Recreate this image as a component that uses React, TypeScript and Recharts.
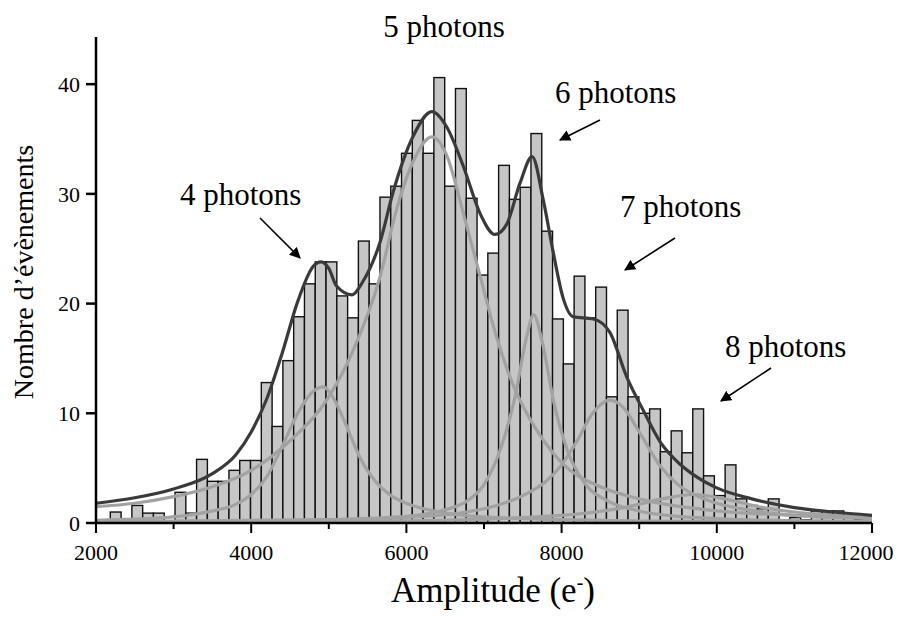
import React from 'react';
import { ComposedChart, Bar, Line, XAxis, YAxis } from 'recharts';

const FONT = '"Liberation Serif", "Times New Roman", serif';

// histogram bin centres (e-) and counts
const amplitude = [
  2254, 2393, 2532, 2671, 2810, 2949, 3088, 3227, 3366, 3505,
  3644, 3783, 3922, 4061, 4200, 4339, 4478, 4617, 4756, 4895,
  5034, 5173, 5312, 5451, 5590, 5729, 5868, 6007, 6146, 6285,
  6424, 6563, 6702, 6841, 6980, 7119, 7258, 7397, 7536, 7675,
  7814, 7953, 8092, 8231, 8370, 8509, 8648, 8787, 8926, 9065,
  9204, 9343, 9482, 9621, 9760, 9899, 10038, 10177, 10316, 10455,
  10594, 10733, 10872, 11011, 11150, 11289, 11428, 11567, 11706, 11845,
  11984,
];
const counts = [
  1, 0, 1.6, 0.9, 0.9, 0, 2.8, 0.9, 5.8, 3.8,
  3.8, 4.8, 5.7, 5.7, 12.8, 8.8, 14.8, 18.8, 21.8, 23.8,
  23.8, 20.7, 18.7, 25.7, 21.8, 29.7, 30.7, 33.7, 36.7, 33.7,
  40.6, 30.7, 39.6, 29.6, 22.6, 24.6, 32.6, 29.5, 30.6, 35.5,
  26.6, 18.6, 14.5, 22.5, 18.7, 21.5, 11.5, 19.4, 11.5, 10,
  10.4, 6.5, 8.4, 6.4, 10.4, 4.3, 2.5, 5.3, 2.2, 1.6,
  1.3, 2.2, 0.3, 0.5, 0.3, 1.1, 1.1, 1.1, 0.6, 0.3,
  0.5,
];

// fitted curves as [amplitude, value]
const fitTotal = [
  [2000, 1.8], [2500, 2.3], [3000, 3.1], [3500, 4.5], [3800, 6.2], [4000, 8.3],
  [4200, 11.3], [4400, 15.5], [4600, 20.2], [4800, 23.4], [4900, 23.8], [5000, 23.2],
  [5100, 21.6], [5300, 20.8], [5430, 21.9], [5660, 25.6], [5830, 30.2], [6090, 35.3],
  [6330, 37.5], [6520, 36.1], [6735, 32.5], [6950, 28.2], [7140, 26.3], [7290, 27.2],
  [7465, 31], [7620, 33.4], [7765, 29.4], [7894, 24.6], [8020, 20.5], [8150, 18.8],
  [8410, 18.6], [8620, 17.4], [8840, 13.3], [9050, 10.3], [9270, 7.4], [9520, 5.4],
  [9740, 4.2], [10000, 3.2], [10450, 2.2], [11000, 1.4], [11500, 1.0], [12000, 0.7],
];
const fit4 = [
  [2000, 0.25], [2500, 0.35], [3000, 0.55], [3500, 1.1], [3800, 1.7], [4000, 2.6],
  [4200, 4.2], [4400, 7], [4600, 10], [4800, 12], [4930, 12.4], [5050, 11.5],
  [5200, 9.3], [5400, 6], [5600, 3.8], [5800, 2.5], [6000, 1.8], [6500, 0.9],
  [7000, 0.55], [8000, 0.3], [9000, 0.18], [10000, 0.13], [11000, 0.1], [12000, 0.08],
];
const fit5 = [
  [2000, 1.5], [2500, 1.8], [3000, 2.4], [3500, 3.3], [4000, 4.8], [4500, 7.5],
  [5000, 11.5], [5300, 15.5], [5663, 22.5], [5870, 28.5], [6090, 33], [6330, 35.2],
  [6520, 33.5], [6735, 28.2], [6950, 22.5], [7160, 17], [7380, 12.5], [7590, 9.5],
  [7800, 7.2], [8000, 5.5], [8500, 3.3], [9000, 2.2], [10000, 1.1], [11000, 0.7], [12000, 0.5],
];
const fit6 = [
  [2000, 0.1], [4000, 0.2], [5000, 0.3], [6000, 0.6], [6500, 1.2], [6800, 2.1],
  [7000, 3.5], [7200, 6.5], [7400, 11.5], [7550, 17], [7640, 19], [7750, 16.5],
  [7900, 11], [8070, 6.7], [8300, 3.6], [8600, 2], [9000, 1.1], [9500, 0.6],
  [10000, 0.4], [11000, 0.2], [12000, 0.15],
];
const fit7 = [
  [2000, 0.1], [5000, 0.3], [6000, 0.5], [7000, 1.3], [7500, 2.5], [7800, 3.8],
  [8000, 5.3], [8200, 7.5], [8400, 10], [8620, 11.2], [8800, 10.5], [9000, 8.3],
  [9270, 5.2], [9500, 3.5], [9800, 2.3], [10000, 1.8], [10500, 1.1], [11000, 0.7],
  [11500, 0.5], [12000, 0.4],
];
const fit8 = [
  [2000, 0.05], [6000, 0.2], [8000, 0.7], [8800, 1.4], [9300, 2.2], [9700, 2.6],
  [10100, 2.2], [10600, 1.4], [11000, 1.0], [11500, 0.7], [12000, 0.5],
];

const xTicks = [2000, 3000, 4000, 5000, 6000, 7000, 8000, 9000, 10000, 11000, 12000];
const yTicks = [0, 10, 20, 30, 40];

const histData = amplitude.map((x, i) => ({ x, count: counts[i] }));
const toPoints = (pairs: number[][]) => pairs.map(([x, y]) => ({ x, y }));

const BIN_PX = 10.8;

function AmplitudeTick(props: any) {
  const { x, y, payload } = props;
  const v = payload.value;
  const major = v % 2000 === 0;
  // last label pulled in a little so it stays inside the page
  const shift = v === 12000 ? -6 : 0;
  return (
    <g>
      <line x1={x} x2={x} y1={y} y2={y + (major ? 10 : 6)} stroke="#000" strokeWidth={2} />
      {major && (
        <text x={x + shift} y={y + 37} textAnchor="middle" fontFamily={FONT} fontSize={22} fill="#000">
          {v}
        </text>
      )}
    </g>
  );
}

// histogram bar: keeps the library's x / height, draws it one bin wide
function BinBar(props: any) {
  const { x, y, width, height } = props;
  if (!height || height <= 0) return <g />;
  const cx = x + (width || 0) / 2;
  return (
    <rect x={cx - BIN_PX / 2} y={y} width={BIN_PX} height={height}
      fill="#c6c6c6" stroke="#111" strokeWidth={1.4} />
  );
}

const componentFits = [fit4, fit5, fit6, fit7, fit8];

export default function App() {
  const W = 889;
  const H = 602;
  return (
    <div style={{ position: 'relative', width: W, height: H }}>
      <ComposedChart width={W} height={H} data={histData}
        margin={{ top: 29, right: 25, left: 28, bottom: 0 }}>
        <XAxis type="number" dataKey="x" domain={[2000, 12000]} ticks={xTicks} interval={0}
          allowDataOverflow tick={<AmplitudeTick />} tickLine={false} tickSize={0} tickMargin={0}
          height={87} axisLine={{ stroke: '#000', strokeWidth: 2.5 }} />
        <YAxis type="number" domain={[0, 44.3]} ticks={yTicks} interval={0} allowDataOverflow
          width={60} tickSize={10} tickMargin={6}
          tickLine={{ stroke: '#000', strokeWidth: 2.5 }}
          axisLine={{ stroke: '#000', strokeWidth: 2.5 }}
          tick={{ fill: '#000', fontSize: 22, fontFamily: FONT }} />
        <Bar dataKey="count" barSize={BIN_PX} shape={<BinBar />} isAnimationActive={false} />
        {componentFits.map((pts, i) => (
          <Line key={'c' + i} data={toPoints(pts)} dataKey="y" type="monotone" stroke="#a2a2a2"
            strokeWidth={3.2} dot={false} activeDot={false} isAnimationActive={false} />
        ))}
        <Line data={toPoints(fitTotal)} dataKey="y" type="monotone" stroke="#3a3a3a"
          strokeWidth={3.2} dot={false} activeDot={false} isAnimationActive={false} />
      </ComposedChart>
      <svg width={W} height={H} style={{ position: 'absolute', left: 0, top: 0, pointerEvents: 'none' }}>
        <defs>
          <marker id="arrowhead" viewBox="0 0 10 10" refX="9" refY="5" markerWidth="7" markerHeight="7"
            orient="auto-start-reverse">
            <path d="M0,0 L10,5 L0,10 z" fill="#000" />
          </marker>
        </defs>
        <g fontFamily={FONT} fontSize={31} fill="#000">
          <text x={436} y={29} textAnchor="middle">5 photons</text>
          <text x={547} y={95}>6 photons</text>
          <text x={172} y={197}>4 photons</text>
          <text x={612} y={209}>7 photons</text>
          <text x={717} y={349}>8 photons</text>
        </g>
        <g stroke="#000" strokeWidth={1.6} markerEnd="url(#arrowhead)">
          <line x1={252} y1={210} x2={292} y2={250} />
          <line x1={592} y1={112} x2={552} y2={132} />
          <line x1={667} y1={230} x2={617} y2={262} />
          <line x1={763} y1={360} x2={713} y2={393} />
        </g>
        <text transform="translate(25, 264) rotate(-90)" textAnchor="middle" fontFamily={FONT}
          fontSize={28} fill="#000">Nombre d’évènements</text>
        <text x={485} y={594} textAnchor="middle" fontFamily={FONT} fontSize={35} fill="#000">
          Amplitude (e<tspan dy={-13} fontSize={20}>-</tspan><tspan dy={13}>)</tspan>
        </text>
      </svg>
    </div>
  );
}
